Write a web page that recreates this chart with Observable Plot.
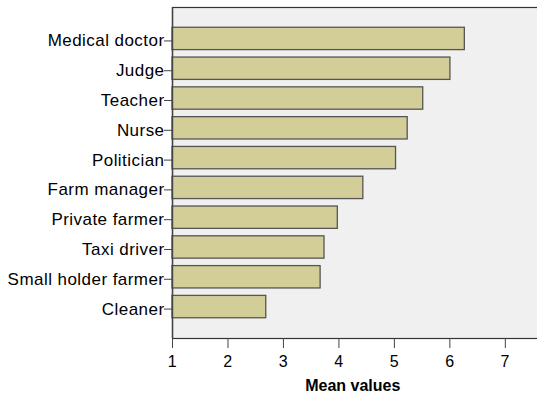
<!DOCTYPE html>
<html>
<head>
<meta charset="utf-8">
<script src="https://cdn.jsdelivr.net/npm/d3@7"></script>
<script src="https://cdn.jsdelivr.net/npm/@observablehq/plot@0.6"></script>
<style>
  html, body { margin: 0; padding: 0; background: #fff; }
  #chart svg { display: block; }
  #chart g[aria-label="y-axis tick label"] text { letter-spacing: 0.45px; }
  #chart g[aria-label="x-axis tick label"] text { letter-spacing: 0.5px; }
</style>
</head>
<body>
<div id="chart"></div>
<script>
const occupations = ["Medical doctor", "Judge", "Teacher", "Nurse", "Politician", "Farm manager", "Private farmer", "Taxi driver", "Small holder farmer", "Cleaner"];
const meanValues = [6.27, 6.01, 5.52, 5.24, 5.03, 4.44, 3.98, 3.74, 3.67, 2.69];
const xTicks = [1, 2, 3, 4, 5, 6, 7];
const xLabel = "Mean values";

const data = occupations.map((o, i) => ({occupation: o, value: meanValues[i]}));

const chart = Plot.plot({
  width: 537,
  height: 403,
  marginLeft: 172,
  marginRight: 0,
  marginTop: 7,
  marginBottom: 65,
  style: {fontFamily: "Liberation Sans, Arial, sans-serif", fontSize: "16px", color: "#000", background: "#fff"},
  x: {domain: [1, 7.58], round: false},
  y: {domain: occupations, paddingInner: 0.25, paddingOuter: 0.68, round: false},
  marks: [
    Plot.frame({fill: "#f0f0f0", stroke: "#333", strokeWidth: 1.2, insetRight: -3}),
    Plot.barX(data, {x1: 1, x2: "value", y: "occupation", fill: "#d3ce98", stroke: "#555", strokeWidth: 1.3}),
    Plot.axisX({ticks: xTicks, tickFormat: d3.format("d"), tickSize: 10, tickPadding: 7, fontSize: 16, stroke: "#444", label: null}),
    Plot.axisY({tickSize: 8, tickPadding: 0, fontSize: 17, dy: 2, stroke: "#444", label: null}),
    Plot.ruleX([1], {stroke: "#444", strokeWidth: 1.4}),
    Plot.text([xLabel], {frameAnchor: "bottom", dy: 52, x: 4.25, text: d => d, fontWeight: "bold", fontSize: 16})
  ]
});
document.getElementById("chart").appendChild(chart);
</script>
</body>
</html>
